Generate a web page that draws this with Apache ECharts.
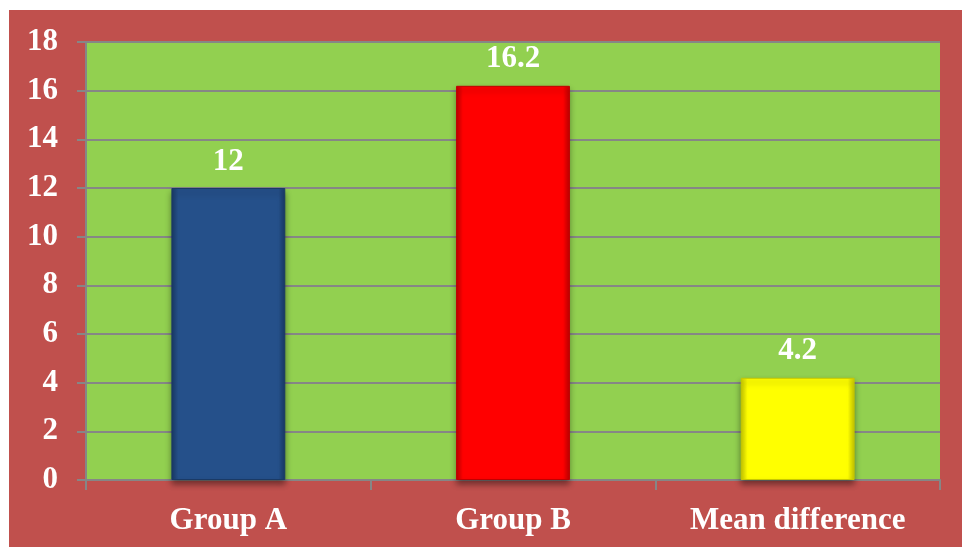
<!DOCTYPE html>
<html>
<head>
<meta charset="utf-8">
<script src="https://cdn.jsdelivr.net/npm/echarts@6/dist/echarts.min.js"></script>
<style>
  html, body { margin: 0; padding: 0; background: #fff; }
  #chart { position: absolute; left: 9px; top: 10px; width: 953px; height: 537px; }
</style>
</head>
<body>
<div id="chart"></div>
<script>
const categories = ['Group A', 'Group B', 'Mean difference'];
const values = [12, 16.2, 4.2];
const yTicks = { min: 0, max: 18, interval: 2 };

// bar fill / edge colours
const barColors = ['#25508a', '#ff0000', '#ffff00'];
const barEdges = ['#1a3a66', '#c00000', '#c8c800'];

const font = 'Liberation Serif, Times New Roman, serif';

const chart = echarts.init(document.getElementById('chart'));

const option = {
  backgroundColor: '#c0504d',
  animation: false,
  grid: {
    left: 77,
    right: 22,
    top: 32,
    bottom: 67,
    show: true,
    backgroundColor: '#92d050',
    borderWidth: 0,
  },
  xAxis: {
    type: 'category',
    data: categories,
    axisLine: { show: true, lineStyle: { color: '#868686', width: 2 } },
    axisTick: { show: true, length: 10, lineStyle: { color: '#868686', width: 2 } },
    axisLabel: {
      color: '#fff',
      fontFamily: font,
      fontWeight: 'bold',
      fontSize: 31,
      margin: 25,
    },
  },
  yAxis: {
    type: 'value',
    min: yTicks.min,
    max: yTicks.max,
    interval: yTicks.interval,
    axisLine: { show: true, lineStyle: { color: '#868686', width: 2 } },
    axisTick: { show: true, length: 9, lineStyle: { color: '#868686', width: 2 } },
    splitLine: { show: true, lineStyle: { color: '#868686', width: 2 } },
    axisLabel: {
      color: '#fff',
      fontFamily: font,
      fontWeight: 'bold',
      fontSize: 31,
      margin: 28,
    },
  },
  series: [
    {
      type: 'bar',
      barWidth: '40%',
      data: values.map((v, i) => ({
        value: v,
        itemStyle: {
          color: {
            type: 'linear', x: 0, y: 0, x2: 1, y2: 0,
            colorStops: [
              { offset: 0, color: barEdges[i] },
              { offset: 0.06, color: barColors[i] },
              { offset: 0.94, color: barColors[i] },
              { offset: 1, color: barEdges[i] },
            ],
          },
          borderColor: barEdges[i],
          borderWidth: 1,
          shadowColor: 'rgba(0,0,0,0.4)',
          shadowBlur: 6,
          shadowOffsetY: 4,
        },
      })),
      label: {
        show: true,
        position: 'top',
        distance: 11,
        color: '#fff',
        fontFamily: font,
        fontWeight: 'bold',
        fontSize: 31,
      },
    },
  ],
};

chart.setOption(option);
</script>
</body>
</html>
